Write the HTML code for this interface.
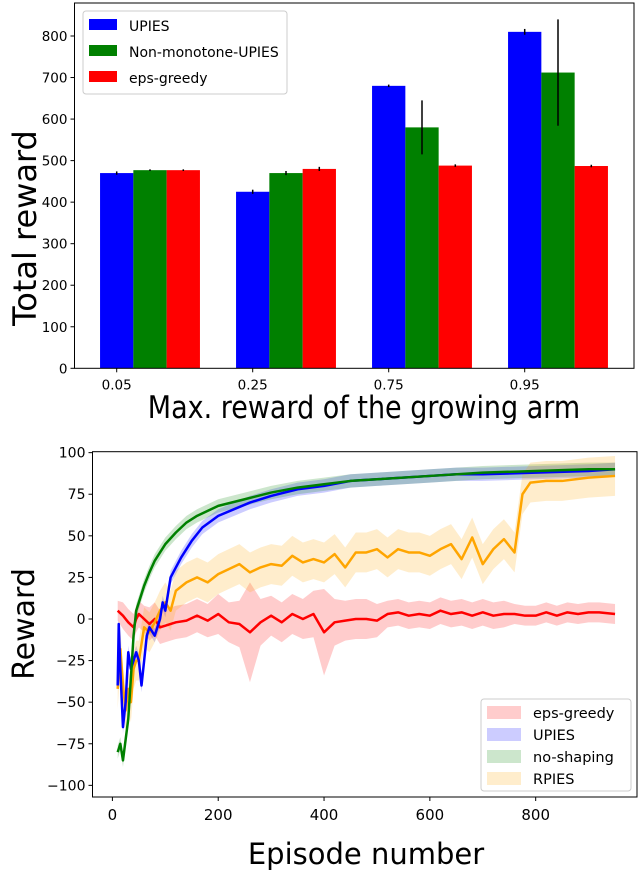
<!DOCTYPE html>
<html><head><meta charset="utf-8"><style>
body{margin:0;background:#fff;}
svg{display:block;font-family:"DejaVu Sans","Liberation Sans",sans-serif;}
</style></head><body>
<svg id="c" width="640" height="871"></svg>
<script>
// ---- Bar chart data ----
const barCats = ["0.05","0.25","0.75","0.95"];
const upiesTotal = [470,425,680,810];
const upiesErr = [4,5,3,7];
const nonMonoTotal = [477,470,580,712];
const nonMonoErr = [2,5,65,128];
const epsTotal = [477,480,488,487];
const epsErr = [2,5,3,3];
const barYTicks = [0,100,200,300,400,500,600,700,800];

// ---- Line chart data ----
const gX = [10,15,20,30,40,45,50,60,70,80,90,100,120,140,160,180,200,250,300,350,400,450,500,600,700,800,900,950];
const gY = [-80,-75,-85,-60,-10,5,10,20,28,35,40,45,52,58,62,65,68,72,76,79,81,83,84,86,88,89,90,90];
const bX = [10,12,15,20,25,30,35,40,45,50,55,60,65,70,80,90,95,100,110,130,150,170,200,230,260,300,350,400,450,500,600,650,700,800,900,950];
const bY = [-40,-3,-30,-65,-50,-20,-30,-25,-20,-25,-40,-25,-10,-5,-10,0,10,5,25,37,47,55,62,66,70,74,78,80,83,84,86,87,87,88,89,90];
const oX = [10,15,20,25,30,35,40,45,50,60,70,80,90,100,110,120,140,160,180,200,220,240,260,280,300,320,340,360,380,400,420,440,460,480,500,520,540,560,580,600,620,640,660,680,700,720,740,760,775,790,820,850,900,950];
const oY = [-42,-18,-40,-55,-42,-50,-30,-25,-25,-5,-8,-2,5,10,5,17,22,25,22,27,30,33,28,31,33,32,38,34,36,34,39,31,40,40,42,37,42,40,40,38,42,45,36,49,33,42,48,40,75,82,83,83,85,86];
const rX = [10,20,30,40,45,50,60,70,80,90,100,120,140,160,180,200,220,240,260,280,300,320,340,360,380,400,420,440,460,480,500,520,540,560,580,600,620,640,660,680,700,720,740,760,780,800,820,840,860,880,900,920,950];
const rY = [5,2,-2,-5,0,3,0,-3,0,-5,-4,-2,-1,2,-1,3,-2,-3,-8,-2,2,-2,3,0,3,-8,-2,-1,0,0,-1,3,4,2,3,2,5,3,4,2,4,2,3,3,2,2,4,2,4,3,4,4,3];
const rSpread = [6,8,8,8,8,8,8,10,10,10,10,10,10,10,10,12,12,14,30,14,12,12,12,12,14,26,14,12,12,12,10,8,8,8,8,8,8,8,8,8,8,8,8,6,6,6,6,6,6,6,6,6,6];
const gSpread = 4, bSpread = 4, oSpread = 12;
const lineXTicks = [0,200,400,600,800];
const lineYTicks = [-100,-75,-50,-25,0,25,50,75,100];

const NS="http://www.w3.org/2000/svg";
const svg=document.getElementById('c');
function el(tag,attrs,parent,text){const e=document.createElementNS(NS,tag);for(const k in attrs)e.setAttribute(k,attrs[k]);if(text!==undefined)e.textContent=text;(parent||svg).appendChild(e);return e;}

// ===== Bar chart =====
const bL=74.5,bR=634,bT=3,bB=368.3;
const by=v=>bB-v*(bB-36)/800;
const bx=i=>116.7+i*136;
const bw=33.3;
const gBar=el('g',{});


const series=[[upiesTotal,upiesErr,'#0000ff','upies'],[nonMonoTotal,nonMonoErr,'#008000','non-monotone'],[epsTotal,epsErr,'#ff0000','eps-greedy']];
series.forEach((s,si)=>{
  barCats.forEach((c,i)=>{
    const cx=bx(i)+si*bw;
    const r=el('rect',{x:cx-bw/2,y:by(s[0][i]),width:bw,height:bB-by(s[0][i]),fill:s[2]},gBar);
    
    
    const e=el('line',{x1:cx,x2:cx,y1:by(s[0][i]-s[1][i]),y2:by(s[0][i]+s[1][i]),stroke:'#000','stroke-width':1.5},gBar);
    
    
  });
});
el('rect',{x:bL,y:bT,width:bR-bL,height:bB-bT,fill:'none',stroke:'#000','stroke-width':1},gBar);
barYTicks.forEach(v=>{
  el('line',{x1:bL-4,x2:bL,y1:by(v),y2:by(v),stroke:'#000'},gBar);
  const t=el('text',{x:bL-7,y:by(v)+5,'text-anchor':'end','font-size':13.5},gBar,v);
  
  
});
barCats.forEach((c,i)=>{
  el('line',{x1:bx(i),x2:bx(i),y1:bB,y2:bB+4,stroke:'#000'},gBar);
  const t=el('text',{x:bx(i),y:bB+21,'text-anchor':'middle','font-size':13.5},gBar,c);
  
  
});
const yt=el('text',{x:0,y:0,transform:'translate(36,228) rotate(-90)','text-anchor':'middle','font-size':32},gBar,'Total reward');


const xt=el('text',{x:0,y:0,transform:'translate(364,418) scale(1,1.15)','text-anchor':'middle','font-size':27},gBar,'Max. reward of the growing arm');


const lg=el('g',{},gBar);


el('rect',{x:83,y:11,width:204,height:83,rx:3,fill:'#fff',stroke:'#ccc'},lg);
[['UPIES','#0000ff'],['Non-monotone-UPIES','#008000'],['eps-greedy','#ff0000']].forEach((l,i)=>{
  el('rect',{x:89,y:19+i*26,width:28,height:11,fill:l[1]},lg);
  const t=el('text',{x:129,y:31+i*26,'font-size':14},lg,l[0]);
  
  
});

// ===== Line chart =====
const lL=92.5,lR=637,lT=451.7,lB=797;
const ly=v=>619-v*1.6635;
const lx=v=>112.4+v*0.5291;
const gLine=el('g',{});


function band(xs,ys,sp,color,name){
  const spr=i=>Array.isArray(sp)?sp[i]:sp;
  let d='M'+xs.map((x,i)=>lx(x)+','+ly(ys[i]+spr(i))).join('L');
  for(let i=xs.length-1;i>=0;i--)d+='L'+lx(xs[i])+','+ly(ys[i]-spr(i));
  const p=el('path',{d:d+'Z',fill:color,'fill-opacity':0.2,stroke:'none'},gLine);
  
  
}
function line(xs,ys,color,name){
  const p=el('path',{d:'M'+xs.map((x,i)=>lx(x)+','+ly(ys[i])).join('L'),fill:'none',stroke:color,'stroke-width':2.5,'stroke-linejoin':'round'},gLine);
  
  
}
band(rX,rY,rSpread,'#ff0000','eps-greedy');
band(bX,bY,bSpread,'#0000ff','upies');
band(gX,gY,gSpread,'#008000','no-shaping');
band(oX,oY,oSpread,'#ffa500','rpies');
line(rX,rY,'#ff0000','eps-greedy');
line(oX,oY,'#ffa500','rpies');
line(bX,bY,'#0000ff','upies');
line(gX,gY,'#008000','no-shaping');
el('rect',{x:lL,y:lT,width:lR-lL,height:lB-lT,fill:'none',stroke:'#000','stroke-width':1},gLine);
lineYTicks.forEach(v=>{
  el('line',{x1:lL-4,x2:lL,y1:ly(v),y2:ly(v),stroke:'#000'},gLine);
  const t=el('text',{x:lL-7,y:ly(v)+5,'text-anchor':'end','font-size':14},gLine,v<0?'\u2212'+(-v):v);
  
  
});
lineXTicks.forEach(v=>{
  el('line',{x1:lx(v),x2:lx(v),y1:lB,y2:lB+4,stroke:'#000'},gLine);
  const t=el('text',{x:lx(v),y:lB+23,'text-anchor':'middle','font-size':15},gLine,v);
  
  
});
const yt2=el('text',{x:0,y:0,transform:'translate(34,624) rotate(-90)','text-anchor':'middle','font-size':30},gLine,'Reward');


const xt2=el('text',{x:366,y:864,'text-anchor':'middle','font-size':29},gLine,'Episode number');


const lg2=el('g',{},gLine);


el('rect',{x:481,y:699,width:150,height:92,rx:3,fill:'#fff','fill-opacity':0.8,stroke:'#ccc'},lg2);
[['eps-greedy','#ff0000'],['UPIES','#0000ff'],['no-shaping','#008000'],['RPIES','#ffa500']].forEach((l,i)=>{
  el('rect',{x:487,y:706+i*22,width:34,height:13,fill:l[1],'fill-opacity':0.2},lg2);
  const t=el('text',{x:533,y:718+i*22,'font-size':14.5},lg2,l[0]);
  
  
});
</script>
</body></html>
